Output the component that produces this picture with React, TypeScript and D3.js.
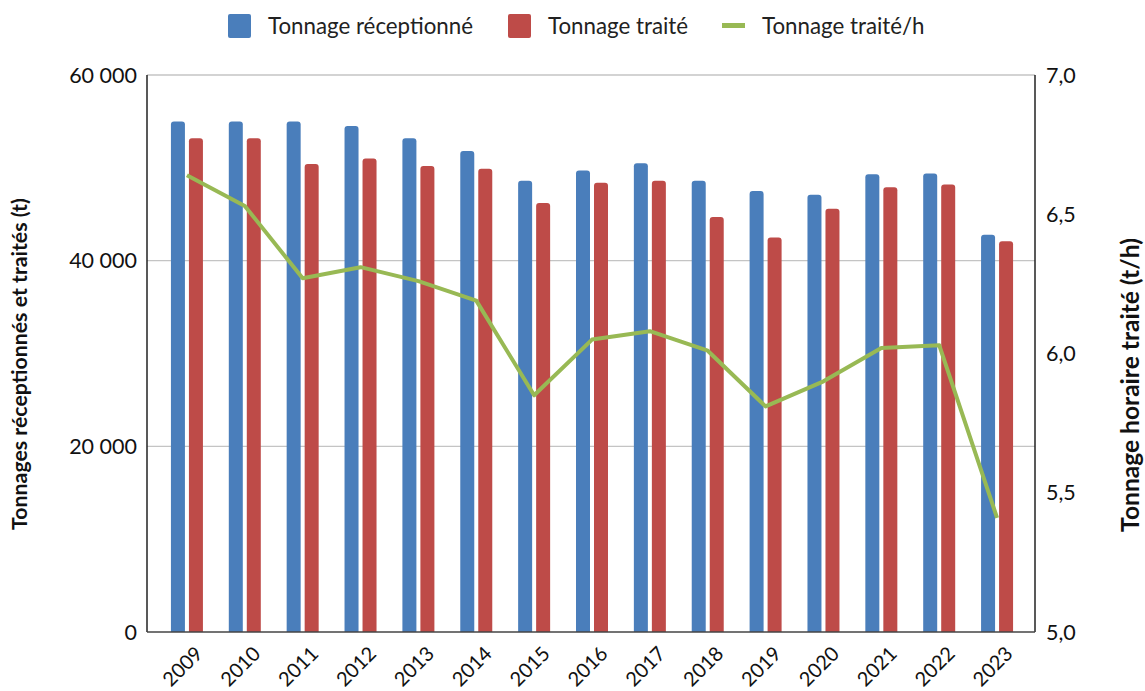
import { useEffect, useRef } from "react";
import * as d3 from "d3";

// Chart data
const years = ["2009", "2010", "2011", "2012", "2013", "2014", "2015", "2016", "2017", "2018", "2019", "2020", "2021", "2022", "2023"];
const tonnageRecu = [55000, 55000, 55000, 54500, 53200, 51800, 48600, 49700, 50500, 48600, 47500, 47100, 49300, 49400, 42800];
const tonnageTraite = [53200, 53200, 50400, 51000, 50200, 49900, 46200, 48400, 48600, 44700, 42500, 45600, 47900, 48200, 42100];
const tonnageHeure = [6.64, 6.53, 6.27, 6.31, 6.26, 6.19, 5.85, 6.05, 6.08, 6.01, 5.81, 5.9, 6.02, 6.03, 5.41];
const leftTicks = [0, 20000, 40000, 60000];
const rightTicks = [5.0, 5.5, 6.0, 6.5, 7.0];

const seriesNames = ["Tonnage réceptionné", "Tonnage traité", "Tonnage traité/h"];
const colors = ["#4a7ebb", "#be4b48", "#98b954"];

const W = 1145;
const H = 691;
const FONT = "Lato, 'Open Sans', sans-serif";

export default function App(): JSX.Element {
    const svgRef = useRef<SVGSVGElement>(null);

    useEffect(() => {
        const svg = d3.select(svgRef.current);
        svg.selectAll("*").remove();

        const left = 147, right = 1035, top = 75, bottom = 632;

        const x = d3.scaleBand<string>().domain(years).range([158, 1026]).padding(0);
        const x1 = d3.scaleBand<string>().domain(["recu", "traite"]).range([-16, 16]).paddingInner(2 - 32 / 18);
        const y = d3.scaleLinear().domain([0, 60000]).range([bottom, top]);
        const y2 = d3.scaleLinear().domain([5, 7]).range([bottom, top]);

        // Gridlines
        svg.append("g").selectAll("line")
            .data(leftTicks.filter(t => t > 0))
            .enter().append("line")
            .attr("x1", left).attr("x2", right)
            .attr("y1", d => y(d)).attr("y2", d => y(d))
            .attr("stroke", "#c4c4c4").attr("stroke-width", 1.3);

        // Bars with rounded tops
        const roundTop = (x0: number, w: number, yTop: number, yBot: number, r: number) =>
            `M${x0},${yBot}V${yTop + r}Q${x0},${yTop} ${x0 + r},${yTop}H${x0 + w - r}Q${x0 + w},${yTop} ${x0 + w},${yTop + r}V${yBot}Z`;

        const groups = svg.append("g").selectAll("g")
            .data(years)
            .enter().append("g")
            .attr("transform", d => `translate(${x(d)! + x.bandwidth() / 2},0)`);

        groups.append("path")
            .attr("d", (_, i) => roundTop(x1("recu")!, x1.bandwidth(), y(tonnageRecu[i]), y(0), 3))
            .attr("fill", colors[0]);
        groups.append("path")
            .attr("d", (_, i) => roundTop(x1("traite")!, x1.bandwidth(), y(tonnageTraite[i]), y(0), 3))
            .attr("fill", colors[1]);

        // Line
        const line = d3.line<number>()
            .x((_, i) => x(years[i])! + x.bandwidth() / 2)
            .y(d => y2(d));
        svg.append("path")
            .attr("d", line(tonnageHeure))
            .attr("fill", "none")
            .attr("stroke", colors[2])
            .attr("stroke-width", 4)
            .attr("stroke-linejoin", "round");

        // Axes lines
        svg.append("line").attr("x1", left).attr("x2", left).attr("y1", top).attr("y2", bottom)
            .attr("stroke", "#222").attr("stroke-width", 1.5);
        svg.append("line").attr("x1", right).attr("x2", right).attr("y1", top).attr("y2", bottom)
            .attr("stroke", "#222").attr("stroke-width", 1.5);
        svg.append("line").attr("x1", left).attr("x2", right).attr("y1", bottom).attr("y2", bottom)
            .attr("stroke", "#444").attr("stroke-width", 1.5);

        const fmt = (v: number) => d3.format(",")(v).replace(/,/g, " ");

        svg.append("g").selectAll("text")
            .data(leftTicks)
            .enter().append("text")
            .attr("x", 137).attr("y", d => y(d))
            .attr("dy", "0.35em")
            .attr("text-anchor", "end")
            .attr("font-family", FONT).attr("font-size", 21.5).attr("fill", "#111")
            .text(d => fmt(d));

        svg.append("g").selectAll("text")
            .data(rightTicks)
            .enter().append("text")
            .attr("x", 1046).attr("y", d => y2(d))
            .attr("dy", "0.35em")
            .attr("text-anchor", "start")
            .attr("font-family", FONT).attr("font-size", 21.5).attr("fill", "#111")
            .text(d => d3.format(".1f")(d).replace(".", ","));

        // Year labels
        svg.append("g").selectAll("text")
            .data(years)
            .enter().append("text")
            .attr("transform", d => `translate(${x(d)! + x.bandwidth() / 2 + 12},${650}) rotate(-45)`)
            .attr("text-anchor", "end")
            .attr("dy", "0.35em")
            .attr("font-family", FONT).attr("font-size", 20).attr("fill", "#111")
            .text(d => d);

        // Axis titles, sized to their measured length in the reference
        const fitText = (sel: d3.Selection<SVGTextElement, unknown, null, undefined>, target: number) => {
            const node = sel.node();
            if (!node) return;
            const len = node.getComputedTextLength();
            if (len > 0) sel.attr("font-size", 20 * target / len);
        };
        const t1 = svg.append("text")
            .attr("transform", `translate(27,${364}) rotate(-90)`)
            .attr("text-anchor", "middle")
            .attr("font-family", FONT).attr("font-size", 20).attr("font-weight", "bold").attr("fill", "#111")
            .text("Tonnages réceptionnés et traités (t)");
        fitText(t1 as any, 332);
        const t2 = svg.append("text")
            .attr("transform", `translate(1139,${385}) rotate(-90)`)
            .attr("text-anchor", "middle")
            .attr("font-family", FONT).attr("font-size", 20).attr("font-weight", "bold").attr("fill", "#111")
            .text("Tonnage horaire traité (t/h)");
        fitText(t2 as any, 294);

        // Legend
        const legendX = [228, 508, 722];
        const legend = svg.append("g").selectAll("g")
            .data(seriesNames)
            .enter().append("g")
            .attr("transform", (_, i) => `translate(${legendX[i]},0)`);
        legend.filter((_, i) => i < 2).append("rect")
            .attr("x", 0).attr("y", 14).attr("width", 23).attr("height", 24).attr("rx", 2)
            .attr("fill", (_, i) => colors[i]);
        legend.filter((_, i) => i === 2).append("rect")
            .attr("x", 0).attr("y", 23).attr("width", 23).attr("height", 5)
            .attr("fill", colors[2]);
        legend.append("text")
            .attr("x", 40).attr("y", 26).attr("dy", "0.35em")
            .attr("font-family", FONT).attr("font-size", 22.3).attr("fill", "#222")
            .text(d => d);
    }, []);

    return <svg ref={svgRef} width={W} height={H} style={{ display: "block", position: "absolute", left: 0, top: 0, background: "#fff" }} />;
}
